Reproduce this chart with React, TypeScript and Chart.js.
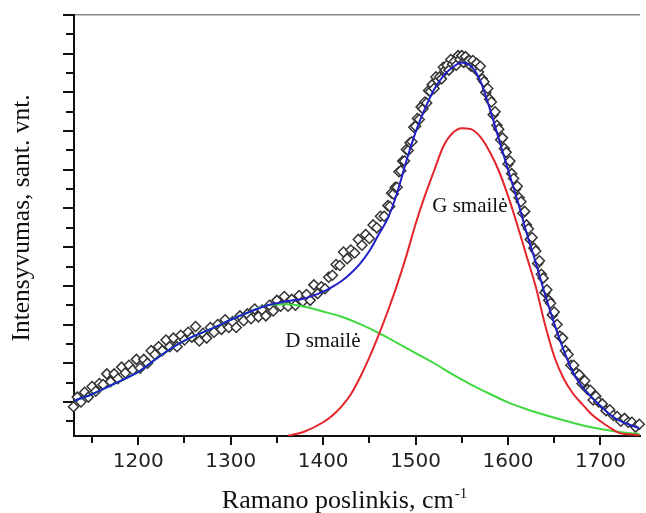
import React, { useEffect, useRef } from 'react';
import { Chart, registerables } from 'chart.js';

Chart.register(...registerables);

// Raman shift (cm^-1) and intensity (arbitrary units)
const FIT_X = [1130, 1150, 1170, 1200, 1220, 1240, 1260, 1280, 1300, 1320, 1340, 1360, 1380, 1400, 1410, 1420, 1430, 1440, 1450, 1460, 1470, 1480, 1490, 1500, 1510, 1520, 1530, 1540, 1550, 1560, 1570, 1580, 1590, 1600, 1610, 1620, 1630, 1640, 1650, 1660, 1670, 1680, 1690, 1700, 1710, 1720, 1730, 1745];
const FIT_Y = [21, 28, 37, 51, 65, 78, 88, 96, 105, 113, 120, 124, 127, 134, 139, 145, 153, 163, 176, 193, 210, 236, 269, 299, 323, 343, 357, 366, 371, 367, 352, 324, 292, 260, 229, 195, 164, 131, 101, 74, 51, 36, 25, 16, 7, 1, -3, -8];

const G_X = [1362, 1380, 1400, 1410, 1420, 1430, 1440, 1450, 1460, 1470, 1480, 1490, 1500, 1510, 1520, 1530, 1540, 1550, 1560, 1570, 1580, 1590, 1600, 1610, 1620, 1630, 1640, 1650, 1660, 1670, 1680, 1690, 1700, 1710, 1720, 1730, 1745];
const G_Y = [-15, -10.5, -1, 6, 15.5, 28, 45.5, 66, 89, 114, 141, 171, 204, 233, 259, 284, 298, 303, 302, 294, 279, 259, 233, 203, 171, 139, 100, 67, 44.5, 29, 18, 7.5, 0, -6.5, -12, -13.5, -14.5];

const D_X = [1130, 1150, 1170, 1200, 1220, 1240, 1260, 1280, 1300, 1320, 1340, 1360, 1380, 1400, 1420, 1440, 1460, 1480, 1500, 1520, 1540, 1560, 1580, 1600, 1620, 1640, 1660, 1680, 1700, 1720, 1745];
const D_Y = [21, 28, 37, 51, 65, 78, 88, 96, 105, 113, 120, 121, 118.5, 113.5, 108, 100.5, 91.5, 81, 70.5, 60, 48.5, 38, 28.5, 19.5, 12.5, 6.5, 1, -4, -8, -11, -13.5];

const MEAS_X = [
  1126, 1130, 1134, 1138, 1142, 1146, 1150, 1154, 1158, 1162,
  1166, 1170, 1174, 1178, 1182, 1186, 1190, 1194, 1198, 1202,
  1206, 1210, 1214, 1218, 1222, 1226, 1230, 1234, 1238, 1242,
  1246, 1250, 1254, 1258, 1262, 1266, 1270, 1274, 1278, 1282,
  1286, 1290, 1294, 1298, 1302, 1306, 1310, 1314, 1318, 1322,
  1326, 1330, 1334, 1338, 1342, 1346, 1350, 1354, 1358, 1362,
  1366, 1370, 1374, 1378, 1382, 1386, 1390, 1394, 1398, 1402,
  1406, 1410, 1414, 1418, 1422, 1426, 1430, 1434, 1438, 1442,
  1446, 1450, 1454, 1458, 1462, 1466,
  1470, 1472, 1474, 1476, 1478, 1480, 1482, 1484, 1486, 1488,
  1490, 1492, 1494, 1496, 1498, 1500, 1502, 1504, 1506, 1508,
  1510, 1512, 1514, 1516, 1518, 1520, 1522, 1524, 1526, 1528,
  1530, 1532, 1534, 1536, 1538, 1540, 1542, 1544, 1546, 1548,
  1550, 1552, 1554, 1556, 1558, 1560, 1562, 1564, 1566, 1568,
  1570, 1572, 1574, 1576, 1578, 1580, 1582, 1584, 1586, 1588,
  1590, 1592, 1594, 1596, 1598, 1600, 1602, 1604, 1606, 1608,
  1610, 1612, 1614, 1616, 1618, 1620, 1622, 1624, 1626, 1628,
  1630, 1632, 1634, 1636, 1638, 1640, 1642, 1644, 1646, 1648,
  1650,
  1653, 1656, 1659, 1662, 1665, 1668, 1671, 1674, 1677, 1680,
  1683, 1686, 1689, 1692, 1695, 1698,
  1702, 1706, 1710, 1714, 1718, 1722, 1726, 1730, 1734, 1738, 1742,
];
const MEAS_Y = [
  21, 15, 25, 20, 30, 25, 36, 31, 39, 38,
  49, 41, 49, 44, 56, 50, 58, 53, 64, 55,
  64, 60, 73, 69, 77, 73, 84, 77, 86, 77,
  89, 84, 92, 87, 98, 83, 91, 86, 97, 92,
  100, 95, 105, 97, 103, 97, 109, 104, 111, 106,
  116, 108, 115, 109, 120, 114, 125, 119, 129, 119,
  126, 120, 130, 124, 131, 125, 141, 132, 139, 137,
  149, 151, 162, 161, 175, 168, 177, 174, 188, 182,
  193, 189, 203, 200, 212, 212,
  223, 222, 236, 235, 242, 242, 258, 259, 269, 269,
  281, 280, 288, 289, 304, 305, 313, 312, 325, 323,
  330, 329, 342, 341, 348, 344, 356, 352, 356, 354,
  366, 363, 368, 363, 374, 369, 372, 368, 378, 374,
  378, 371, 377, 372, 373, 367, 373, 365, 370, 361,
  367, 354, 351, 340, 344, 333, 330, 317, 320, 306,
  302, 291, 293, 282, 278, 266, 269, 256, 251, 240,
  243, 231, 227, 215, 217, 203, 199, 188, 190, 179,
  176, 163, 166, 152, 148, 133, 136, 125, 122, 110,
  113,
  100, 88, 86, 73, 69, 58, 58, 50, 48, 39,
  42, 33, 32, 22, 26, 20,
  18, 11, 12, 6, 5, 0, 3, -1, -1, -6, -3,
];

const X_MIN = 1130.5;
const X_MAX = 1742.2;
const Y_MIN = -15.2;
const Y_MAX = 420;
const X_STEP = 50;
const X_LABEL_STEP = 100;
const Y_STEP = 20;

const PEAK_LABELS = [
  { text: 'G smailė', x: 1518, y: 216 },
  { text: 'D smailė', x: 1359, y: 77 },
];
const X_TITLE = 'Ramano poslinkis, cm';
const X_TITLE_SUP = '-1';
const Y_TITLE = 'Intensyvumas, sant. vnt.';

const isMult = (v: number, m: number) => Math.abs(v / m - Math.round(v / m)) < 1e-6;
const pts = (xs: number[], ys: number[]) => xs.map((x, i) => ({ x, y: ys[i] }));

const textPlugin = {
  id: 'figureTexts',
  afterDraw(chart: any) {
    const { ctx, scales } = chart;
    const xs = scales.x;
    const ys = scales.y;
    ctx.save();
    ctx.fillStyle = '#111';
    ctx.textAlign = 'left';
    ctx.textBaseline = 'alphabetic';
    ctx.font = '21px "Liberation Serif"';
    PEAK_LABELS.forEach((l) => {
      ctx.fillText(l.text, xs.getPixelForValue(l.x), ys.getPixelForValue(l.y));
    });

    // x-axis title with superscript
    ctx.font = '26px "Liberation Serif"';
    const w1 = ctx.measureText(X_TITLE).width;
    ctx.font = '15px "Liberation Serif"';
    const w2 = ctx.measureText(X_TITLE_SUP).width;
    const cx = 344;
    const base = 508;
    const x0 = cx - (w1 + w2) / 2;
    ctx.font = '26px "Liberation Serif"';
    ctx.fillText(X_TITLE, x0, base);
    ctx.font = '15px "Liberation Serif"';
    ctx.fillText(X_TITLE_SUP, x0 + w1 + 1, base - 10);

    // y-axis title
    ctx.translate(22, 218);
    ctx.rotate(-Math.PI / 2);
    ctx.textAlign = 'center';
    ctx.textBaseline = 'middle';
    ctx.font = '25.5px "Liberation Serif"';
    ctx.fillText(Y_TITLE, 0, 0);
    ctx.restore();
  },
};

export default function App() {
  const ref = useRef<HTMLCanvasElement>(null);

  useEffect(() => {
    if (!ref.current) return;
    const chart = new Chart(ref.current, {
      type: 'line',
      data: {
        datasets: [
          {
            label: 'Suminė',
            data: pts(FIT_X, FIT_Y),
            borderColor: '#2020c8',
            borderWidth: 2,
            pointRadius: 0,
            cubicInterpolationMode: 'monotone',
            order: 1,
          },
          {
            label: 'G smailė',
            data: pts(G_X, G_Y),
            borderColor: '#e4262b',
            borderWidth: 2,
            pointRadius: 0,
            cubicInterpolationMode: 'monotone',
            order: 2,
          },
          {
            label: 'D smailė',
            data: pts(D_X, D_Y),
            borderColor: '#3fd93f',
            borderWidth: 2,
            pointRadius: 0,
            cubicInterpolationMode: 'monotone',
            order: 3,
          },
          {
            label: 'Matavimas',
            data: pts(MEAS_X, MEAS_Y),
            showLine: false,
            pointStyle: 'rectRot',
            pointRadius: 5,
            pointBorderWidth: 1.5,
            pointBorderColor: '#333333',
            pointBackgroundColor: '#ffffff',
            clip: false,
            order: 4,
          } as any,
        ],
      },
      options: {
        responsive: false,
        animation: false,
        layout: { padding: 0 },
        plugins: {
          legend: { display: false },
          tooltip: { enabled: false },
        },
        scales: {
          x: {
            type: 'linear',
            position: 'bottom',
            min: X_MIN,
            max: X_MAX,
            afterBuildTicks: (s: any) => {
              s.ticks = s.ticks.filter((t: any) => isMult(t.value, X_STEP));
            },
            afterFit: (s: any) => {
              s.height = 77;
            },
            ticks: {
              stepSize: X_STEP,
              includeBounds: false,
              autoSkip: false,
              maxRotation: 0,
              padding: 5,
              color: '#222',
              font: { family: '"DejaVu Sans"', size: 20 },
              callback: (v: any) => (isMult(Number(v), X_LABEL_STEP) ? String(Math.round(Number(v))) : ''),
            },
            grid: {
              drawOnChartArea: false,
              drawTicks: true,
              tickLength: 9,
              lineWidth: 2,
              tickWidth: 2,
              tickColor: '#111',
              tickBorderDash: (c: any) => (c.tick && isMult(c.tick.value, X_LABEL_STEP) ? [] : [6, 50]),
            } as any,
            border: { display: true, color: '#111', width: 2 },
          },
          x2: {
            type: 'linear',
            position: 'top',
            min: X_MIN,
            max: X_MAX,
            ticks: { display: false, includeBounds: false },
            grid: { drawOnChartArea: false, drawTicks: false },
            border: { display: true, color: '#8a8a8a', width: 1.5 },
            afterFit: (s: any) => {
              s.height = 15;
            },
          },
          y: {
            type: 'linear',
            position: 'left',
            min: Y_MIN,
            max: Y_MAX,
            afterBuildTicks: (s: any) => {
              s.ticks = s.ticks.filter((t: any) => t.value >= 0 && isMult(t.value, Y_STEP));
            },
            afterFit: (s: any) => {
              s.width = 74;
            },
            ticks: { display: false, stepSize: Y_STEP, autoSkip: false, includeBounds: false },
            grid: {
              drawOnChartArea: false,
              drawTicks: true,
              tickLength: 11,
              lineWidth: 2,
              tickWidth: 2,
              tickColor: '#111',
              tickBorderDash: (c: any) =>
                c.tick && Math.round(c.tick.value / Y_STEP) % 2 === 1 ? [] : [0, 3, 7, 50],
            } as any,
            border: { display: true, color: '#111', width: 2 },
          },
        },
      },
      plugins: [textPlugin],
    });
    return () => chart.destroy();
  }, []);

  return (
    <div style={{ position: 'absolute', left: 0, top: 0, width: 646, height: 513, background: '#fff' }}>
      <canvas ref={ref} width={646} height={513} style={{ display: 'block' }} />
    </div>
  );
}
